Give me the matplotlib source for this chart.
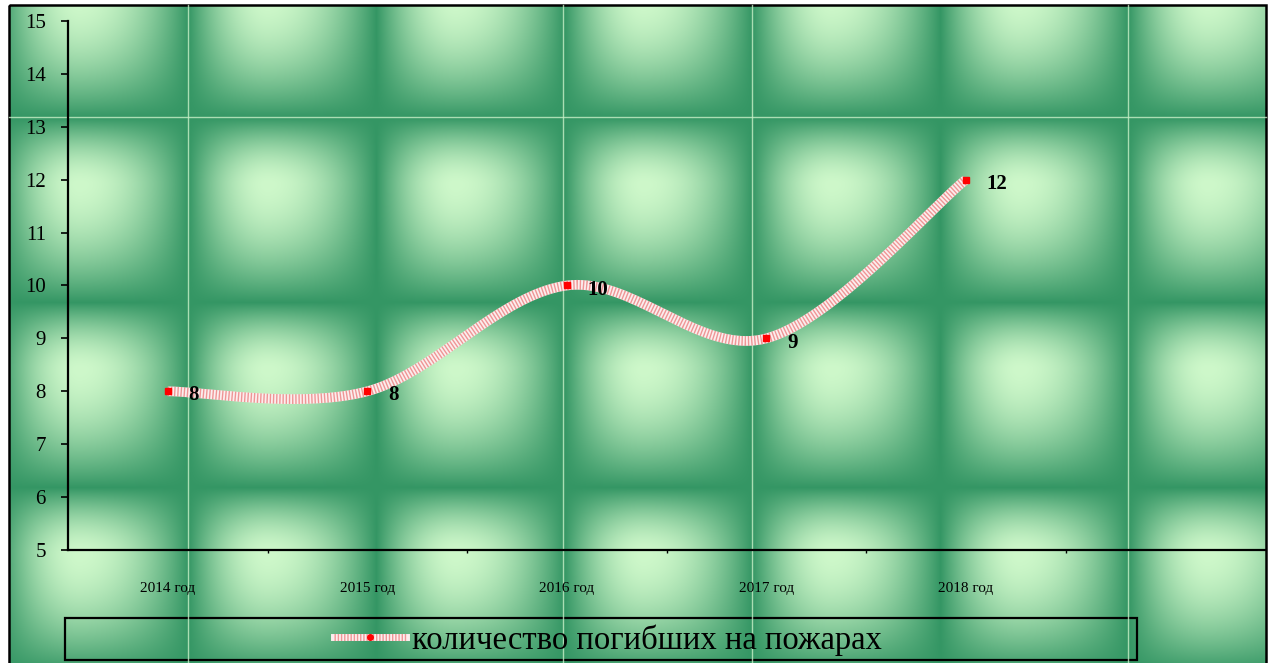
import numpy as np
import matplotlib
matplotlib.use("Agg")
import matplotlib.pyplot as plt
from matplotlib.patches import Rectangle
from matplotlib.lines import Line2D

plt.rcParams['font.family'] = ['Liberation Serif', 'DejaVu Serif']
plt.rcParams['lines.scale_dashes'] = False

# data
years = ["2014 год", "2015 год", "2016 год", "2017 год", "2018 год"]
deaths = [8, 8, 10, 9, 12]
series_name = "количество погибших на пожарах"

W, H = 1274, 663


def pillow_texture(w, h):
    # tiled "pillow" fill similar to the office texture
    xx, yy = np.meshgrid(np.arange(w), np.arange(h))
    s = (xx % 188) / 188.0
    t = ((yy + 68) % 185) / 185.0

    def bump(u, c, p):
        d = np.where(u < c, (c - u) / c, (u - c) / (1 - c))
        return np.clip(1 - d ** p, 0, 1)

    b = bump(s, 0.42, 1.9) * bump(t, 0.36, 1.7)
    dark = np.array([52, 150, 100]) / 255.0
    light = np.array([206, 248, 202]) / 255.0
    img = dark + b[..., None] * (light - dark)
    # white margin outside the chart border
    img[:, :9] = 1
    img[:5, :] = 1
    img[:, 1266:] = 1
    return img


def smooth(xs, ys, n=40):
    # Excel-like smoothed line: cubic bezier with catmull-rom control points
    pts = np.column_stack([xs, ys]).astype(float)
    ext = np.vstack([pts[0], pts, pts[-1]])
    out = []
    for i in range(len(pts) - 1):
        p0, p1, p2, p3 = ext[i], ext[i + 1], ext[i + 2], ext[i + 3]
        c1 = p1 + (p2 - p0) / 6.0
        c2 = p2 - (p3 - p1) / 6.0
        tt = np.linspace(0, 1, n)[:, None]
        seg = ((1 - tt) ** 3 * p1 + 3 * (1 - tt) ** 2 * tt * c1
               + 3 * (1 - tt) * tt ** 2 * c2 + tt ** 3 * p2)
        out.append(seg if i == 0 else seg[1:])
    seg = np.vstack(out)
    return seg[:, 0], seg[:, 1]


fig = plt.figure(figsize=(W / 100, H / 100), dpi=100)

bg = fig.add_axes([0, 0, 1, 1])
bg.imshow(pillow_texture(W, H), extent=(0, W, H, 0), aspect='auto', interpolation='bilinear')
bg.set_xlim(0, W)
bg.set_ylim(H, 0)
bg.axis('off')
# thin pale seams of the texture
for xv in [188, 563, 752, 1128]:
    bg.plot([xv, xv], [5, H], color='#c8f0c8', lw=1.0, alpha=0.8)
bg.plot([9, 1266], [117, 117], color='#c8f0c8', lw=1.0, alpha=0.8)
bg.add_patch(Rectangle((9, 5), 1257, H, fill=False, ec='black', lw=1.8))
bg.add_patch(Rectangle((65, 618), 1072, 42, fill=False, ec='black', lw=1.6))

ax = fig.add_axes([68 / W, (H - 550) / H, (1265 - 68) / W, (550 - 21) / H])
ax.patch.set_alpha(0)
ax.set_xlim(-0.5, 5.5)
ax.set_ylim(5, 15)
for side in ['top', 'right']:
    ax.spines[side].set_visible(False)
for side in ['left', 'bottom']:
    ax.spines[side].set_linewidth(1.6)

ax.set_yticks(range(5, 16))
ax.tick_params(axis='y', length=5, width=1.2, pad=11, labelsize=15)
x = np.arange(len(years))
ax.set_xticks(x)
ax.set_xticklabels(years, fontsize=11)
ax.tick_params(axis='x', length=0, pad=23)
ax.set_xticks(np.arange(0.5, 5.5, 1), minor=True)
ax.tick_params(axis='x', which='minor', length=2.5, width=1)

sx, sy = smooth(x, deaths)
ax.plot(sx, sy, color='#fbeeee', lw=7, solid_capstyle='butt', zorder=3)
ax.plot(sx, sy, color=(0.9, 0.3, 0.3, 0.55), lw=7, dashes=(1.0, 1.3), zorder=4)
ax.plot(x, deaths, 's', color='#ff0000', ms=5, zorder=5)

for xi, v in zip(x, deaths):
    ax.annotate(str(v), (xi, v), xytext=(15, -3), textcoords='offset points',
                fontsize=15, fontweight='bold', ha='left', va='center', zorder=6)

h_base = Line2D([], [], color='#fbeeee', lw=5)
h_dash = Line2D([], [], color=(0.9, 0.3, 0.3, 0.55), lw=5, dashes=(1.0, 1.3))
h_mark = Line2D([], [], color='none', marker='o', mfc='#ff0000', mec='#ff0000', ms=4)
fig.legend([(h_base, h_dash, h_mark)], [series_name], loc='center',
           bbox_to_anchor=(608 / W, 1 - 640 / H), frameon=False, fontsize=23.5,
           handlelength=2.2, handletextpad=0.2, borderpad=0)

fig.savefig("out.png", dpi=100)
